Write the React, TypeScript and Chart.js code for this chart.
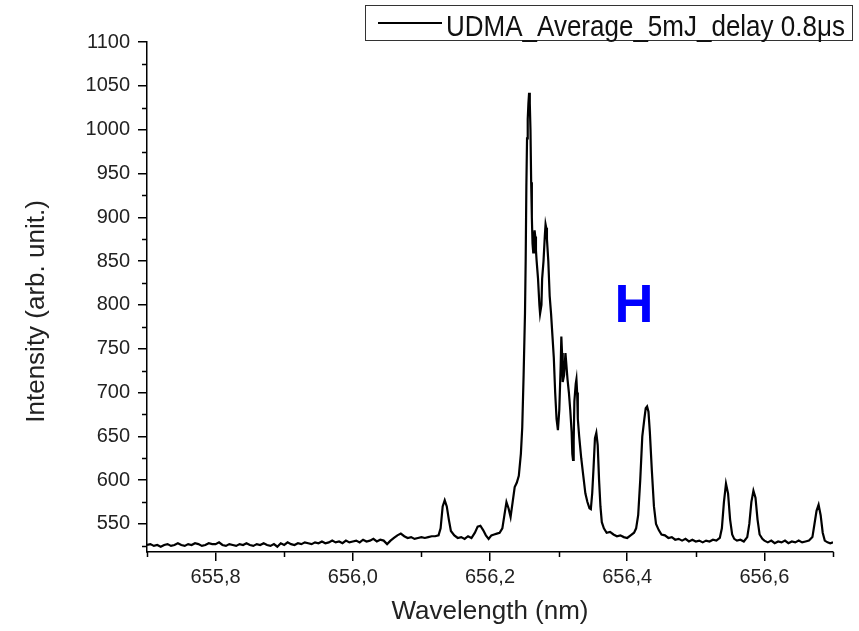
import React, { useEffect, useRef } from "react";
import { Chart, registerables } from "chart.js";

Chart.register(...registerables);

const FONT = "'Liberation Sans', Arial, Helvetica, sans-serif";

// Wavelength samples (nm)
const wavelengthsNm: number[] = [
  655.700, 655.705, 655.710, 655.715, 655.720, 655.725, 655.730, 655.735, 655.740, 655.745,
  655.750, 655.755, 655.760, 655.765, 655.770, 655.775, 655.780, 655.785, 655.790, 655.795,
  655.800, 655.805, 655.810, 655.815, 655.820, 655.825, 655.830, 655.835, 655.840, 655.845,
  655.850, 655.855, 655.860, 655.865, 655.870, 655.875, 655.880, 655.885, 655.890, 655.895,
  655.900, 655.905, 655.910, 655.915, 655.920, 655.925, 655.930, 655.935, 655.940, 655.945,
  655.950, 655.955, 655.960, 655.965, 655.970, 655.975, 655.980, 655.985, 655.990, 655.995,
  656.000, 656.005, 656.010, 656.015, 656.020, 656.025, 656.030, 656.035, 656.040, 656.045,
  656.050, 656.055, 656.060, 656.065, 656.070, 656.075, 656.080, 656.085, 656.090, 656.095,
  656.100, 656.105, 656.110, 656.115, 656.120, 656.125, 656.128, 656.131, 656.134, 656.137,
  656.140, 656.143, 656.148, 656.153, 656.158, 656.163, 656.168, 656.173, 656.178, 656.182,
  656.186, 656.190, 656.194, 656.198, 656.202, 656.206, 656.210, 656.214, 656.218, 656.221,
  656.224, 656.227, 656.230, 656.233, 656.236, 656.239, 656.242, 656.245, 656.247, 656.249,
  656.251, 656.252, 656.253, 656.254, 656.255, 656.256, 656.257, 656.258, 656.259, 656.260,
  656.261, 656.262, 656.263, 656.264, 656.265, 656.266, 656.267, 656.268, 656.270, 656.272,
  656.273, 656.275, 656.276, 656.278, 656.280, 656.281, 656.282, 656.283, 656.285, 656.287,
  656.289, 656.291, 656.293, 656.295, 656.297, 656.299, 656.301, 656.303, 656.304, 656.305,
  656.306, 656.308, 656.310, 656.311, 656.313, 656.315, 656.317, 656.319, 656.320, 656.321,
  656.322, 656.323, 656.325, 656.326, 656.327, 656.328, 656.330, 656.333, 656.336, 656.339,
  656.342, 656.345, 656.347, 656.349, 656.351, 656.353, 656.355, 656.357, 656.359, 656.361,
  656.363, 656.366, 656.370, 656.375, 656.380, 656.385, 656.390, 656.395, 656.400, 656.405,
  656.410, 656.413, 656.416, 656.419, 656.422, 656.425, 656.427, 656.429, 656.431, 656.433,
  656.436, 656.439, 656.442, 656.446, 656.450, 656.455, 656.460, 656.465, 656.470, 656.475,
  656.480, 656.485, 656.490, 656.495, 656.500, 656.505, 656.510, 656.515, 656.520, 656.525,
  656.530, 656.535, 656.538, 656.541, 656.544, 656.547, 656.550, 656.553, 656.556, 656.560,
  656.565, 656.570, 656.575, 656.578, 656.581, 656.584, 656.587, 656.590, 656.593, 656.597,
  656.600, 656.605, 656.610, 656.615, 656.620, 656.625, 656.630, 656.635, 656.640, 656.645,
  656.650, 656.655, 656.660, 656.665, 656.670, 656.673, 656.676, 656.679, 656.682, 656.685,
  656.688, 656.692, 656.696, 656.700,
];

// Intensity (arb. unit.) for each wavelength above
const intensities: number[] = [
  526, 527, 525, 526, 524, 526, 527, 525, 526, 528,
  526, 525, 527, 526, 528, 527, 525, 526, 528, 527,
  527, 529, 526, 525, 527, 526, 525, 527, 526, 528,
  526, 525, 527, 526, 528, 526, 525, 527, 524, 528,
  526, 529, 527, 526, 528, 527, 529, 528, 527, 529,
  528, 530, 528, 529, 531, 529, 530, 528, 531, 529,
  530, 531, 529, 532, 530, 531, 533, 530, 532, 531,
  527, 531, 534, 537, 539, 536, 534, 535, 533, 534,
  535, 534, 535, 536, 536, 537, 545, 570, 577, 570,
  555, 542, 537, 534, 535, 533, 536, 534, 540, 547,
  548, 543, 537, 533, 537, 538, 539, 540, 545, 560,
  575, 568, 558, 575, 592, 597, 605, 630, 660, 720,
  790, 850, 935, 990, 1012, 1030, 1042, 1030, 1000, 940,
  900, 870, 860, 872, 885, 878, 862, 850, 830, 800,
  790, 800, 830, 850, 880, 892, 888, 875, 850, 810,
  790, 765, 740, 700, 670, 657, 680, 730, 764, 745,
  712, 720, 745, 735, 715, 700, 680, 655, 630, 623,
  645, 690, 710, 715, 700, 670, 650, 625, 605, 585,
  575, 568, 567, 585, 615, 648, 654, 640, 600, 570,
  552, 545, 540, 541, 538, 536, 537, 535, 534, 537,
  540, 545, 560, 600, 650, 670, 682, 684, 678, 655,
  610, 570, 550, 543, 538, 537, 534, 535, 532, 533,
  531, 533, 530, 532, 530, 531, 529, 531, 530, 532,
  531, 534, 545, 575, 596, 585, 555, 538, 533, 531,
  532, 530, 535, 550, 575, 588, 580, 555, 538, 533,
  531, 529, 531, 528, 530, 529, 531, 528, 530, 529,
  531, 529, 530, 531, 535, 550, 565, 572, 560, 540,
  531, 529, 528, 529,
];

const seriesLabel = "UDMA_Average_5mJ_delay 0.8\u03bcs";
const xAxisTitle = "Wavelength (nm)";
const yAxisTitle = "Intensity (arb. unit.)";
const annotationText = "H";
const annotationX = 656.41;
const annotationY = 780;

const xMin = 655.7;
const xMax = 656.7;
const yMin = 518;
const yMax = 1100;
const xMajorTicks = [655.8, 656.0, 656.2, 656.4, 656.6];
const xMinorTicks = [655.7, 655.9, 656.1, 656.3, 656.5, 656.7];
const yMajorTicks = [550, 600, 650, 700, 750, 800, 850, 900, 950, 1000, 1050, 1100];
const yMinorTicks = [525, 575, 625, 675, 725, 775, 825, 875, 925, 975, 1025, 1075];

const decorPlugin = {
  id: "decor",
  afterDraw(chart: any) {
    const { ctx, chartArea, scales } = chart;
    const xs = scales.x;
    const ys = scales.y;
    ctx.save();
    // minor ticks
    ctx.strokeStyle = "#000";
    ctx.lineWidth = 1.5;
    ctx.beginPath();
    xMinorTicks.forEach((v) => {
      const px = Math.round(xs.getPixelForValue(v)) + 0.5;
      ctx.moveTo(px, chartArea.bottom);
      ctx.lineTo(px, chartArea.bottom + 5);
    });
    yMinorTicks.forEach((v) => {
      const py = Math.round(ys.getPixelForValue(v)) + 0.5;
      ctx.moveTo(chartArea.left - 5, py);
      ctx.lineTo(chartArea.left, py);
    });
    ctx.stroke();

    // legend box
    ctx.lineWidth = 1;
    ctx.strokeStyle = "#333";
    ctx.strokeRect(365.5, 5.5, 487, 35);
    ctx.lineWidth = 2;
    ctx.strokeStyle = "#000";
    ctx.beginPath();
    ctx.moveTo(378, 23);
    ctx.lineTo(442, 23);
    ctx.stroke();
    ctx.save();
    ctx.translate(446, 35.5);
    ctx.scale(1, 1.15);
    ctx.fillStyle = "#111";
    ctx.font = `26px ${FONT}`;
    ctx.textAlign = "left";
    ctx.textBaseline = "alphabetic";
    ctx.fillText(seriesLabel, 0, 0);
    ctx.restore();

    // annotation
    ctx.fillStyle = "#0000ff";
    ctx.font = `bold 54px ${FONT}`;
    ctx.textAlign = "center";
    ctx.textBaseline = "alphabetic";
    ctx.fillText(annotationText, xs.getPixelForValue(annotationX), ys.getPixelForValue(annotationY));
    ctx.restore();
  },
};

export default function App() {
  const canvasRef = useRef<HTMLCanvasElement | null>(null);

  useEffect(() => {
    const canvas = canvasRef.current;
    if (!canvas) return;
    const points = wavelengthsNm.map((x, i) => ({ x, y: intensities[i] }));
    const chart = new Chart(canvas, {
      type: "line",
      data: {
        datasets: [
          {
            label: seriesLabel,
            data: points,
            borderColor: "#000",
            borderWidth: 2.2,
            pointRadius: 0,
            tension: 0,
            fill: false,
          },
        ],
      },
      options: {
        animation: false,
        responsive: false,
        devicePixelRatio: 1,
        layout: { padding: { left: 0, right: 26, top: 42, bottom: 0 } },
        plugins: { legend: { display: false }, tooltip: { enabled: false } },
        scales: {
          x: {
            type: "linear",
            min: xMin,
            max: xMax,
            afterBuildTicks: (s: any) => {
              s.ticks = xMajorTicks.map((v) => ({ value: v }));
            },
            afterFit: (s: any) => {
              s.height = 79;
            },
            ticks: {
              callback: (v: any) => Number(v).toFixed(1).replace(".", ","),
              font: { family: FONT, size: 20 },
              color: "#222",
              padding: 4,
              maxRotation: 0,
              autoSkip: false,
            },
            grid: {
              drawOnChartArea: false,
              drawTicks: true,
              tickLength: 9,
              color: "#000",
              lineWidth: 1.5,
            },
            border: { display: true, color: "#000", width: 1.5 },
            title: {
              display: true,
              text: xAxisTitle,
              font: { family: FONT, size: 26 },
              color: "#222",
              padding: { top: 0, bottom: 4 },
            },
          },
          y: {
            type: "linear",
            min: yMin,
            max: yMax,
            afterBuildTicks: (s: any) => {
              s.ticks = yMajorTicks.map((v) => ({ value: v }));
            },
            afterFit: (s: any) => {
              s.width = 147;
            },
            ticks: {
              callback: (v: any) => String(v),
              font: { family: FONT, size: 20 },
              color: "#222",
              padding: 8,
              autoSkip: false,
            },
            grid: {
              drawOnChartArea: false,
              drawTicks: true,
              tickLength: 9,
              color: "#000",
              lineWidth: 1.5,
            },
            border: { display: true, color: "#000", width: 1.5 },
            title: {
              display: true,
              text: yAxisTitle + "    ",
              font: { family: FONT, size: 26 },
              color: "#222",
              padding: { top: 21, bottom: 0 },
            },
          },
        },
      },
      plugins: [decorPlugin],
    });
    return () => chart.destroy();
  }, []);

  return (
    <div style={{ position: "fixed", left: 0, top: 0, width: 859, height: 631, background: "#fff" }}>
      <canvas ref={canvasRef} width={859} height={631} style={{ display: "block" }} />
    </div>
  );
}
